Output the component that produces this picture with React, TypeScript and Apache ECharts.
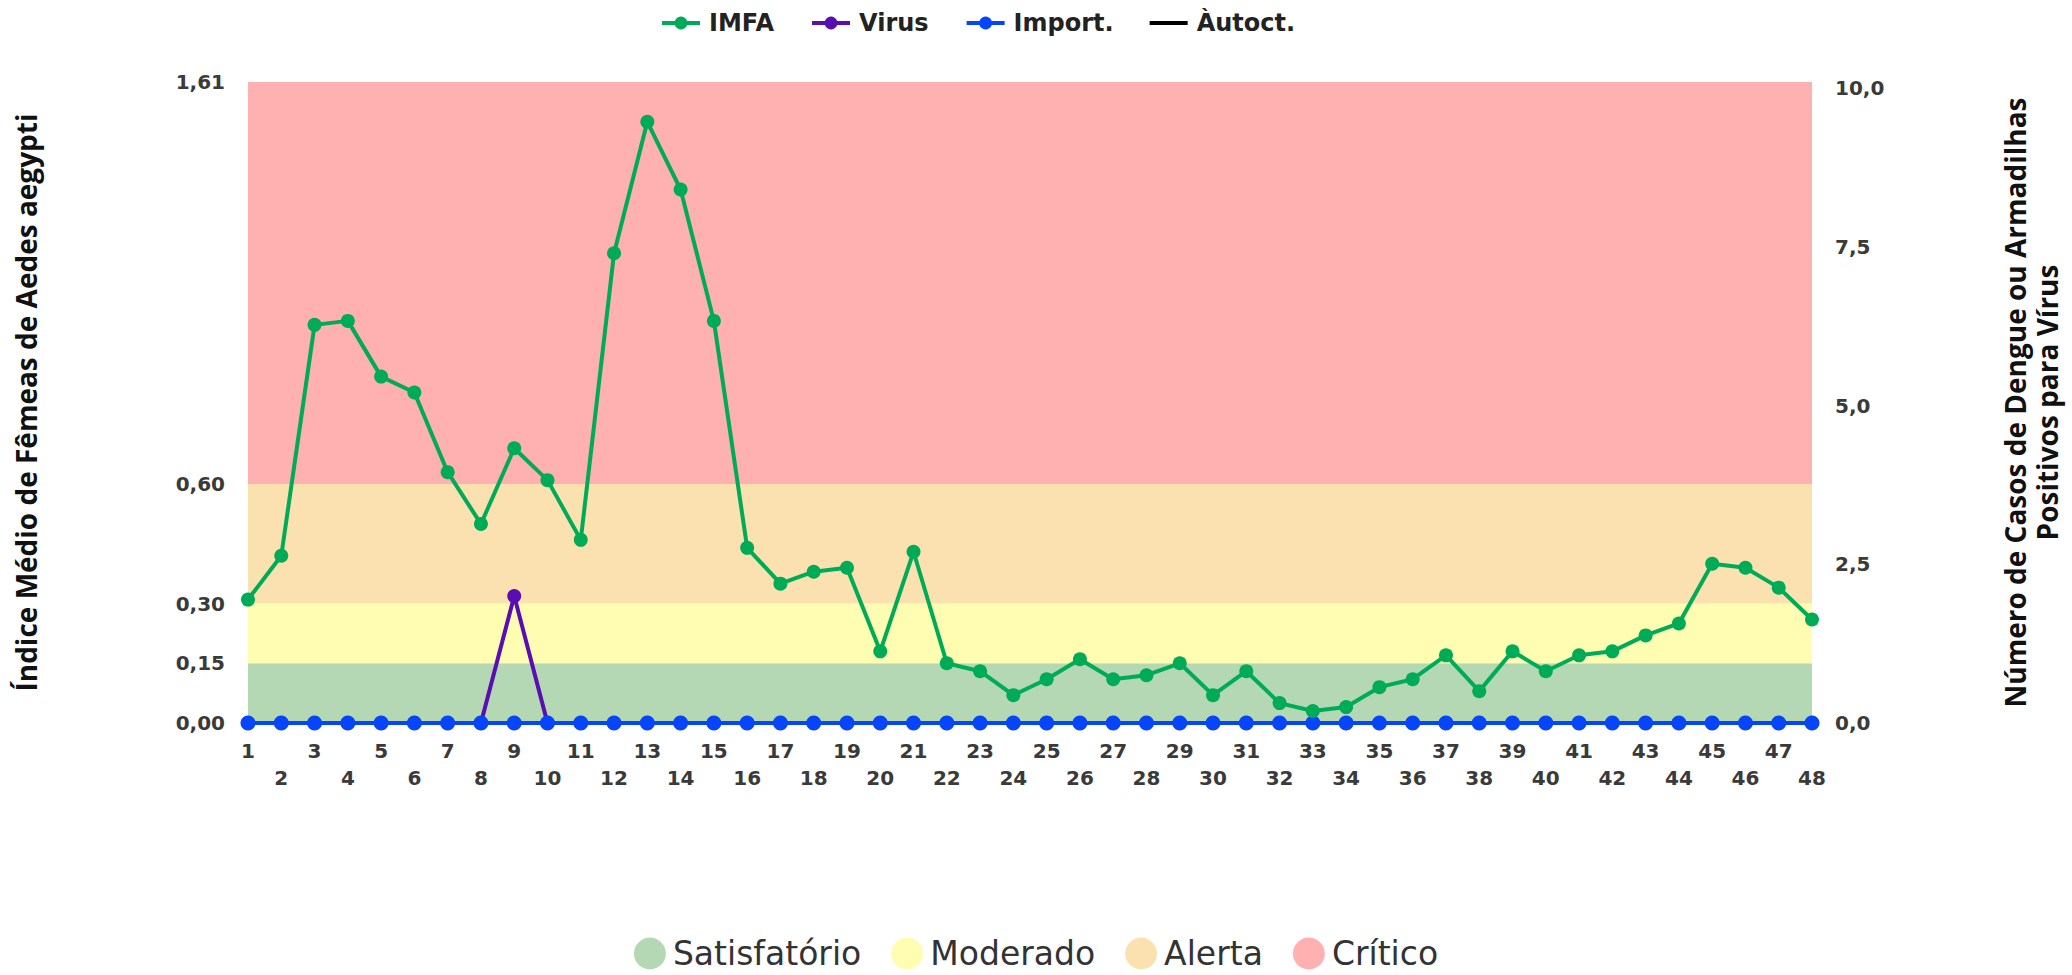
import React, { useEffect, useRef } from 'react';
import * as echarts from 'echarts';

const weeks = ['1','2','3','4','5','6','7','8','9','10','11','12','13','14','15','16','17','18','19','20','21','22','23','24','25','26','27','28','29','30','31','32','33','34','35','36','37','38','39','40','41','42','43','44','45','46','47','48'];

const imfa = [0.31,0.42,1.00,1.01,0.87,0.83,0.63,0.50,0.69,0.61,0.46,1.18,1.51,1.34,1.01,0.44,0.35,0.38,0.39,0.18,0.43,0.15,0.13,0.07,0.11,0.16,0.11,0.12,0.15,0.07,0.13,0.05,0.03,0.04,0.09,0.11,0.17,0.08,0.18,0.13,0.17,0.18,0.22,0.25,0.40,0.39,0.34,0.26];
const virus = [0,0,0,0,0,0,0,0,2,0,0,0,0,0,0,0,0,0,0,0,0,0,0,0,0,0,0,0,0,0,0,0,0,0,0,0,0,0,0,0,0,0,0,0,0,0,0,0];
const imported = [0,0,0,0,0,0,0,0,0,0,0,0,0,0,0,0,0,0,0,0,0,0,0,0,0,0,0,0,0,0,0,0,0,0,0,0,0,0,0,0,0,0,0,0,0,0,0,0];
const autoct = [0,0,0,0,0,0,0,0,0,0,0,0,0,0,0,0,0,0,0,0,0,0,0,0,0,0,0,0,0,0,0,0,0,0,0,0,0,0,0,0,0,0,0,0,0,0,0,0];

const leftTicks = [0, 0.15, 0.3, 0.6, 1.61];
const rightTicks = [0, 2.5, 5, 7.5, 10];

const bandNames = ['Satisfatório', 'Moderado', 'Alerta', 'Crítico'];
const bandFrom = [0, 0.15, 0.3, 0.6];
const bandTo = [0.15, 0.3, 0.6, 1.61];
const bandColors = ['#b3d8b3', '#fefdb1', '#fce1b0', '#ffb0b0'];

const tickFont = "'DejaVu Sans', Verdana, sans-serif";
const titleFont = "'Open Sans', 'Noto Sans', sans-serif";

export default function App() {
  const ref = useRef<HTMLDivElement>(null);
  useEffect(() => {
    document.body.style.margin = '0';
    if (!ref.current) return;
    const chart = echarts.init(ref.current, null, { renderer: 'svg' });
    const tickLabel = {
      fontFamily: tickFont,
      fontWeight: 'bold',
      fontSize: 20,
      color: '#3a3a3a',
    };
    const bandSeries = bandNames.map((n, i) => ({
      name: n,
      type: 'line',
      data: [],
      color: bandColors[i],
      itemStyle: { color: bandColors[i] },
      lineStyle: { color: bandColors[i] },
    }));
    chart.setOption({
      animation: false,
      legend: [
        {
          data: [
            { name: 'IMFA' },
            { name: 'Virus' },
            { name: 'Import.' },
            { name: 'Àutoct.', icon: 'path://M0,0 L38,0 L38,4 L0,4 Z' },
          ],
          top: 6,
          left: 655,
          itemWidth: 38,
          itemHeight: 16,
          itemGap: 36,
          symbolKeepAspect: true,
          lineStyle: { width: 4 },
          textStyle: { fontFamily: tickFont, fontWeight: 'bold', fontSize: 24, color: '#222', padding: [0, 0, 0, 4] },
        },
        {
          data: bandNames,
          bottom: 0,
          left: 'center',
          icon: 'circle',
          itemWidth: 32,
          itemHeight: 32,
          itemGap: 30,
          textStyle: { fontFamily: tickFont, fontSize: 33, color: '#333', padding: [0, 0, 0, 2] },
        },
      ],
      grid: { left: 248, right: 260, top: 82, bottom: 252, containLabel: false, outerBoundsMode: 'none' },
      xAxis: {
        type: 'category',
        data: weeks,
        boundaryGap: false,
        axisLine: { show: false },
        axisTick: { show: false },
        splitLine: { show: false },
        axisLabel: {
          ...tickLabel,
          interval: 0,
          margin: 14,
          lineHeight: 27,
          formatter: (v: string, i: number) => (i % 2 === 0 ? v : '\n' + v),
        },
      },
      yAxis: [
        {
          type: 'value',
          min: 0,
          max: 1.61,
          position: 'left',
          name: 'Índice Médio de Fêmeas de Aedes aegypti',
          nameLocation: 'middle',
          nameGap: 208,
          nameRotate: 90,
          nameTextStyle: { fontFamily: titleFont, fontWeight: 'bold', fontSize: 28, color: '#111' },
          axisLine: { show: false },
          axisTick: { show: false, customValues: leftTicks },
          splitLine: { show: false },
          axisLabel: {
            ...tickLabel,
            margin: 23,
            customValues: leftTicks,
            formatter: (v: number) => v.toFixed(2).replace('.', ','),
          },
        },
        {
          type: 'value',
          min: 0,
          max: 10.1,
          position: 'right',
          name: 'Número de Casos de Dengue ou Armadilhas\nPositivos para Vírus',
          nameLocation: 'middle',
          nameGap: 187,
          nameRotate: 90,
          nameTextStyle: { fontFamily: titleFont, fontWeight: 'bold', fontSize: 28, color: '#111', lineHeight: 32 },
          axisLine: { show: false },
          axisTick: { show: false, customValues: rightTicks },
          splitLine: { show: false },
          axisLabel: {
            ...tickLabel,
            margin: 23,
            customValues: rightTicks,
            formatter: (v: number) => v.toFixed(1).replace('.', ','),
          },
        },
      ],
      series: [
        {
          name: 'IMFA',
          type: 'line',
          yAxisIndex: 0,
          data: imfa,
          z: 6,
          symbol: 'circle',
          symbolSize: 14,
          color: '#00ab58',
          lineStyle: { width: 4, color: '#00ab58' },
          itemStyle: { color: '#00ab58' },
          markArea: {
            silent: true,
            z: 1,
            data: bandNames.map((n, i) => [
              { yAxis: bandFrom[i], itemStyle: { color: bandColors[i], opacity: 1 } },
              { yAxis: bandTo[i] },
            ]),
          },
        },
        {
          name: 'Virus',
          type: 'line',
          yAxisIndex: 1,
          data: virus,
          z: 3,
          symbol: 'circle',
          symbolSize: 14,
          color: '#5a0db0',
          lineStyle: { width: 4, color: '#5a0db0' },
          itemStyle: { color: '#5a0db0' },
        },
        {
          name: 'Import.',
          type: 'line',
          yAxisIndex: 1,
          data: imported,
          z: 5,
          symbol: 'circle',
          symbolSize: 15,
          color: '#0745fb',
          lineStyle: { width: 4, color: '#0745fb' },
          itemStyle: { color: '#0745fb' },
        },
        {
          name: 'Àutoct.',
          type: 'line',
          yAxisIndex: 1,
          data: autoct,
          z: 4,
          symbol: 'none',
          showSymbol: false,
          color: '#000000',
          lineStyle: { width: 4, color: '#000000' },
        },
        ...bandSeries,
      ],
    });
    return () => chart.dispose();
  }, []);
  return <div ref={ref} style={{ width: 2072, height: 975 }} />;
}
